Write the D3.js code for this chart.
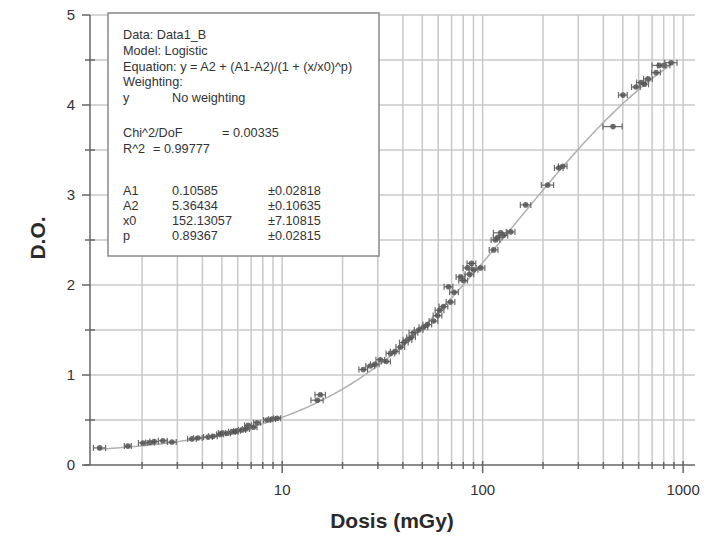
<!DOCTYPE html>
<html>
<head>
<meta charset="utf-8">
<script src="https://cdn.jsdelivr.net/npm/d3@7"></script>
<style>
  body { margin: 0; background: #fff; }
  svg { font-family: "Liberation Sans", Arial, sans-serif; }
</style>
</head>
<body>
<svg width="712" height="537"></svg>
<script>
// Dose (mGy) and optical density
var dose = [1.23, 1.70, 2.02, 2.19, 2.54, 2.82, 3.55, 3.80, 4.27, 4.52, 5.01, 5.31, 5.62, 5.96, 6.31,
            6.76, 7.50, 8.41, 8.91, 9.44, 14.96, 15.5, 25.4, 27.5, 30.9, 34.7, 38.9, 42.2, 45.2,
            50.7, 56.9, 59.6, 63.8, 67.6, 69.2, 77.6, 84.1, 90.2, 97.7, 113.5, 116, 123, 127, 138,
            164, 211, 251, 447, 501, 582, 617, 668, 733, 803, 871,
            2.3, 4.9, 5.8, 6.6, 7.2, 29, 33, 36.5, 40.5, 44, 48, 53, 61, 72, 80, 86, 88, 119, 240, 640, 760];
var od =   [0.19, 0.21, 0.245, 0.25, 0.27, 0.255, 0.29, 0.30, 0.31, 0.32, 0.355, 0.35, 0.37, 0.38, 0.39,
            0.44, 0.47, 0.50, 0.51, 0.52, 0.72, 0.78, 1.06, 1.10, 1.17, 1.24, 1.31, 1.39, 1.47,
            1.53, 1.60, 1.66, 1.76, 1.98, 1.81, 2.09, 2.19, 2.17, 2.19, 2.39, 2.50, 2.58, 2.55, 2.59,
            2.89, 3.11, 3.32, 3.76, 4.11, 4.20, 4.25, 4.29, 4.36, 4.44, 4.47,
            0.26, 0.34, 0.37, 0.40, 0.42, 1.12, 1.15, 1.26, 1.36, 1.42, 1.50, 1.56, 1.72, 1.92, 2.05, 2.12, 2.24, 2.53, 3.30, 4.23, 4.44];
// relative horizontal error of each dose
var doseErr = [0.07, 0.04, 0.05, 0.05, 0.05, 0.05, 0.05, 0.05, 0.05, 0.05, 0.04, 0.04, 0.04, 0.04, 0.04,
               0.04, 0.04, 0.04, 0.04, 0.04, 0.07, 0.06, 0.05, 0.05, 0.05, 0.05, 0.05, 0.05, 0.05,
               0.05, 0.05, 0.05, 0.05, 0.05, 0.05, 0.05, 0.05, 0.05, 0.05, 0.05, 0.05, 0.08, 0.05, 0.05,
               0.06, 0.07, 0.05, 0.11, 0.05, 0.05, 0.05, 0.05, 0.05, 0.07, 0.07,
               0.05, 0.04, 0.04, 0.04, 0.04, 0.05, 0.05, 0.05, 0.05, 0.05, 0.05, 0.05, 0.05, 0.05, 0.05, 0.05, 0.05, 0.05, 0.05, 0.05, 0.08];

// logistic fit parameters shown in the box
var A1 = 0.10585, A2 = 5.36434, x0 = 152.13057, p = 0.89367;

var yTicks = [0, 1, 2, 3, 4, 5];
var xTickLabels = [10, 100, 1000];

var boxLines = [
  ["Data: Data1_B"],
  ["Model: Logistic"],
  ["Equation: y = A2 + (A1-A2)/(1 + (x/x0)^p)"],
  ["Weighting:"],
  ["y", "No weighting"],
  [],
  ["Chi^2/DoF", "= 0.00335"],
  ["R^2", "=  0.99777"],
  [],
  ["A1", "0.10585", "\u00b10.02818"],
  ["A2", "5.36434", "\u00b10.10635"],
  ["x0", "152.13057", "\u00b17.10815"],
  ["p", "0.89367", "\u00b10.02815"]
];

var svg = d3.select("svg");

var x = d3.scaleLog().domain([1.1, 1120]).range([90, 693]);
var y = d3.scaleLinear().domain([0, 5]).range([465, 15]);

// grid
var vGrid = [];
[1, 10, 100].forEach(function(d) {
  for (var k = 2; k <= 10; k++) vGrid.push(d * k);
});
var hGrid = d3.range(0.5, 5.01, 0.5);

svg.append("g").selectAll("line")
  .data(vGrid)
  .enter().append("line")
    .attr("x1", function(d) { return x(d); })
    .attr("x2", function(d) { return x(d); })
    .attr("y1", y(0)).attr("y2", y(5))
    .attr("stroke", "#c8c8c8").attr("stroke-width", 1.5);

svg.append("g").selectAll("line")
  .data(hGrid)
  .enter().append("line")
    .attr("x1", x.range()[0]).attr("x2", x.range()[1] + 2)
    .attr("y1", function(d) { return y(d); })
    .attr("y2", function(d) { return y(d); })
    .attr("stroke", "#c8c8c8").attr("stroke-width", 1.5);

// axes
var axisG = svg.append("g").attr("stroke", "#666").attr("stroke-width", 1.5);
axisG.append("line").attr("x1", x.range()[0]).attr("x2", x.range()[0]).attr("y1", y(0)).attr("y2", y(5));
axisG.append("line").attr("x1", x.range()[0] - 6).attr("x2", x.range()[1] + 2).attr("y1", y(0)).attr("y2", y(0));

axisG.selectAll(".ymaj").data(yTicks).enter().append("line")
  .attr("x1", x.range()[0] - 8).attr("x2", x.range()[0])
  .attr("y1", function(d) { return y(d); }).attr("y2", function(d) { return y(d); });
axisG.selectAll(".ymin").data(d3.range(0.5, 5, 1)).enter().append("line")
  .attr("x1", x.range()[0] - 5).attr("x2", x.range()[0] + 5)
  .attr("y1", function(d) { return y(d); }).attr("y2", function(d) { return y(d); });

axisG.selectAll(".xmaj").data(xTickLabels).enter().append("line")
  .attr("x1", function(d) { return x(d); }).attr("x2", function(d) { return x(d); })
  .attr("y1", y(0) - 4).attr("y2", y(0) + 8);
axisG.selectAll(".xmin").data(vGrid.filter(function(d) { return xTickLabels.indexOf(d) < 0; }))
  .enter().append("line")
  .attr("x1", function(d) { return x(d); }).attr("x2", function(d) { return x(d); })
  .attr("y1", y(0) - 3).attr("y2", y(0) + 4);

svg.append("g").selectAll("text")
  .data(yTicks)
  .enter().append("text")
    .attr("x", 75).attr("y", function(d) { return y(d) + 5; })
    .attr("text-anchor", "end").attr("font-size", 15).attr("fill", "#333")
    .text(function(d) { return d; });

svg.append("g").selectAll("text")
  .data(xTickLabels)
  .enter().append("text")
    .attr("x", function(d) { return x(d); }).attr("y", 495)
    .attr("text-anchor", "middle").attr("font-size", 15).attr("fill", "#333")
    .text(function(d) { return d; });

svg.append("text")
  .attr("transform", "translate(45,238) rotate(-90)")
  .attr("text-anchor", "middle").attr("font-size", 21).attr("font-weight", "bold").attr("fill", "#2a2a2a")
  .text("D.O.");

svg.append("text")
  .attr("x", 392).attr("y", 528)
  .attr("text-anchor", "middle").attr("font-size", 21).attr("font-weight", "bold").attr("fill", "#2a2a2a")
  .text("Dosis (mGy)");

// fitted logistic curve
var fit = function(v) { return A2 + (A1 - A2) / (1 + Math.pow(v / x0, p)); };
var curveX = d3.range(Math.log10(1.2), Math.log10(900), 0.01).map(function(l) { return Math.pow(10, l); });
svg.append("path")
  .datum(curveX)
  .attr("fill", "none").attr("stroke", "#b0b0b0").attr("stroke-width", 1.5)
  .attr("d", d3.line().x(function(d) { return x(d); }).y(function(d) { return y(fit(d)); }));

// data points with horizontal error bars
var pts = dose.map(function(d, i) { return { x: d, y: od[i], e: doseErr[i] }; });
var pg = svg.append("g").selectAll("g").data(pts).enter().append("g");
pg.append("line")
  .attr("x1", function(d) { return x(d.x * (1 - d.e)); })
  .attr("x2", function(d) { return x(d.x * (1 + d.e)); })
  .attr("y1", function(d) { return y(d.y); }).attr("y2", function(d) { return y(d.y); })
  .attr("stroke", "#6a6a6a").attr("stroke-width", 1.2);
pg.selectAll(".cap").data(function(d) { return [[d.x * (1 - d.e), d.y], [d.x * (1 + d.e), d.y]]; })
  .enter().append("line")
  .attr("x1", function(c) { return x(c[0]); }).attr("x2", function(c) { return x(c[0]); })
  .attr("y1", function(c) { return y(c[1]) - 3; }).attr("y2", function(c) { return y(c[1]) + 3; })
  .attr("stroke", "#6a6a6a").attr("stroke-width", 1.2);
pg.append("circle")
  .attr("cx", function(d) { return x(d.x); }).attr("cy", function(d) { return y(d.y); })
  .attr("r", 2.8).attr("fill", "#555").attr("fill-opacity", 0.85);

// parameter box
var box = svg.append("g");
box.append("rect")
  .attr("x", 108).attr("y", 13).attr("width", 271).attr("height", 243)
  .attr("fill", "#fff").attr("stroke", "#888").attr("stroke-width", 1.5);
var cols = [123, 172, 268];
var lineY = [39, 55, 71, 86, 102, 120, 137, 153, 174, 195, 210, 225, 240];
boxLines.forEach(function(row, i) {
  row.forEach(function(t, j) {
    var cx = cols[j];
    if (i === 6 && j === 1) cx = 222;
    if (i === 7 && j === 1) cx = 153;
    box.append("text")
      .attr("x", cx).attr("y", lineY[i])
      .attr("font-size", 12.7).attr("fill", "#333")
      .text(t);
  });
});
</script>
</body>
</html>
